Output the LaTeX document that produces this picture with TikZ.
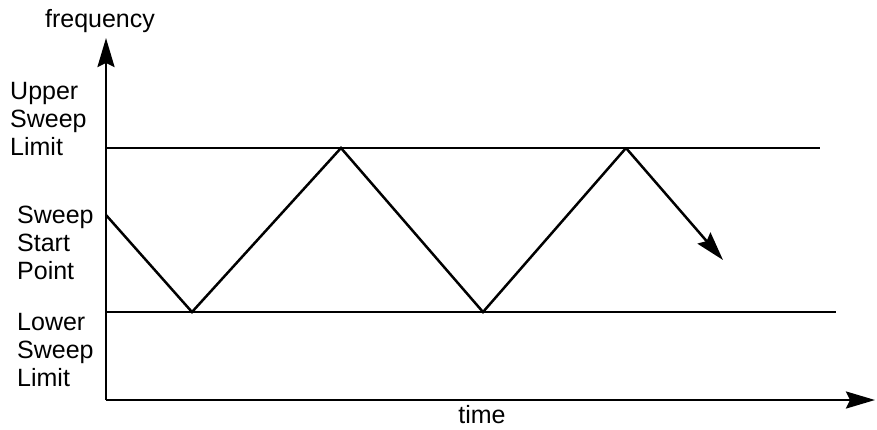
\documentclass[tikz,border=0pt]{standalone}
\usepackage{fontspec}
\setmainfont{Liberation Sans}
\usetikzlibrary{arrows.meta}
\begin{document}
\begin{tikzpicture}[x=1pt,y=-1pt,
  lbl/.style={font=\fontsize{25}{28}\selectfont, inner sep=0pt, align=left, anchor=west},
  ln/.style={line width=2.5pt},
  arr/.style={ln, -{Stealth[length=29pt,width=17pt,inset=4pt]}}]
\useasboundingbox (0,0) rectangle (877,429);
\coordinate (o) at (106,400);
\coordinate (ytip) at (106,38);
\coordinate (xtip) at (875,400);
\coordinate (u0) at (106,148);
\coordinate (u1) at (820,148);
\coordinate (l0) at (106,312);
\coordinate (l1) at (836,312);
\coordinate (s) at (106,215);
\coordinate (p1) at (192,312);
\coordinate (p2) at (341,148);
\coordinate (p3) at (483,312);
\coordinate (p4) at (626,148);
\coordinate (e) at (723,260);
\draw[arr] (o) -- (ytip);
\draw[arr] (o) -- (xtip);
\draw[ln] (u0) -- (u1);
\draw[ln] (l0) -- (l1);
\draw[ln, line join=miter] (s) -- (p1) -- (p2) -- (p3) -- (p4);
\draw[arr] (p4) -- (e);
\node[lbl, anchor=center] (freq) at (100,21) {frequency};
\node[lbl, anchor=center] (time) at (482,415) {time};
\node[lbl] (usl) at (10,119) {Upper\\Sweep\\Limit};
\node[lbl] (ssp) at (17,243) {Sweep\\Start\\Point};
\node[lbl] (lsl) at (17,350) {Lower\\Sweep\\Limit};
\end{tikzpicture}
\end{document}
